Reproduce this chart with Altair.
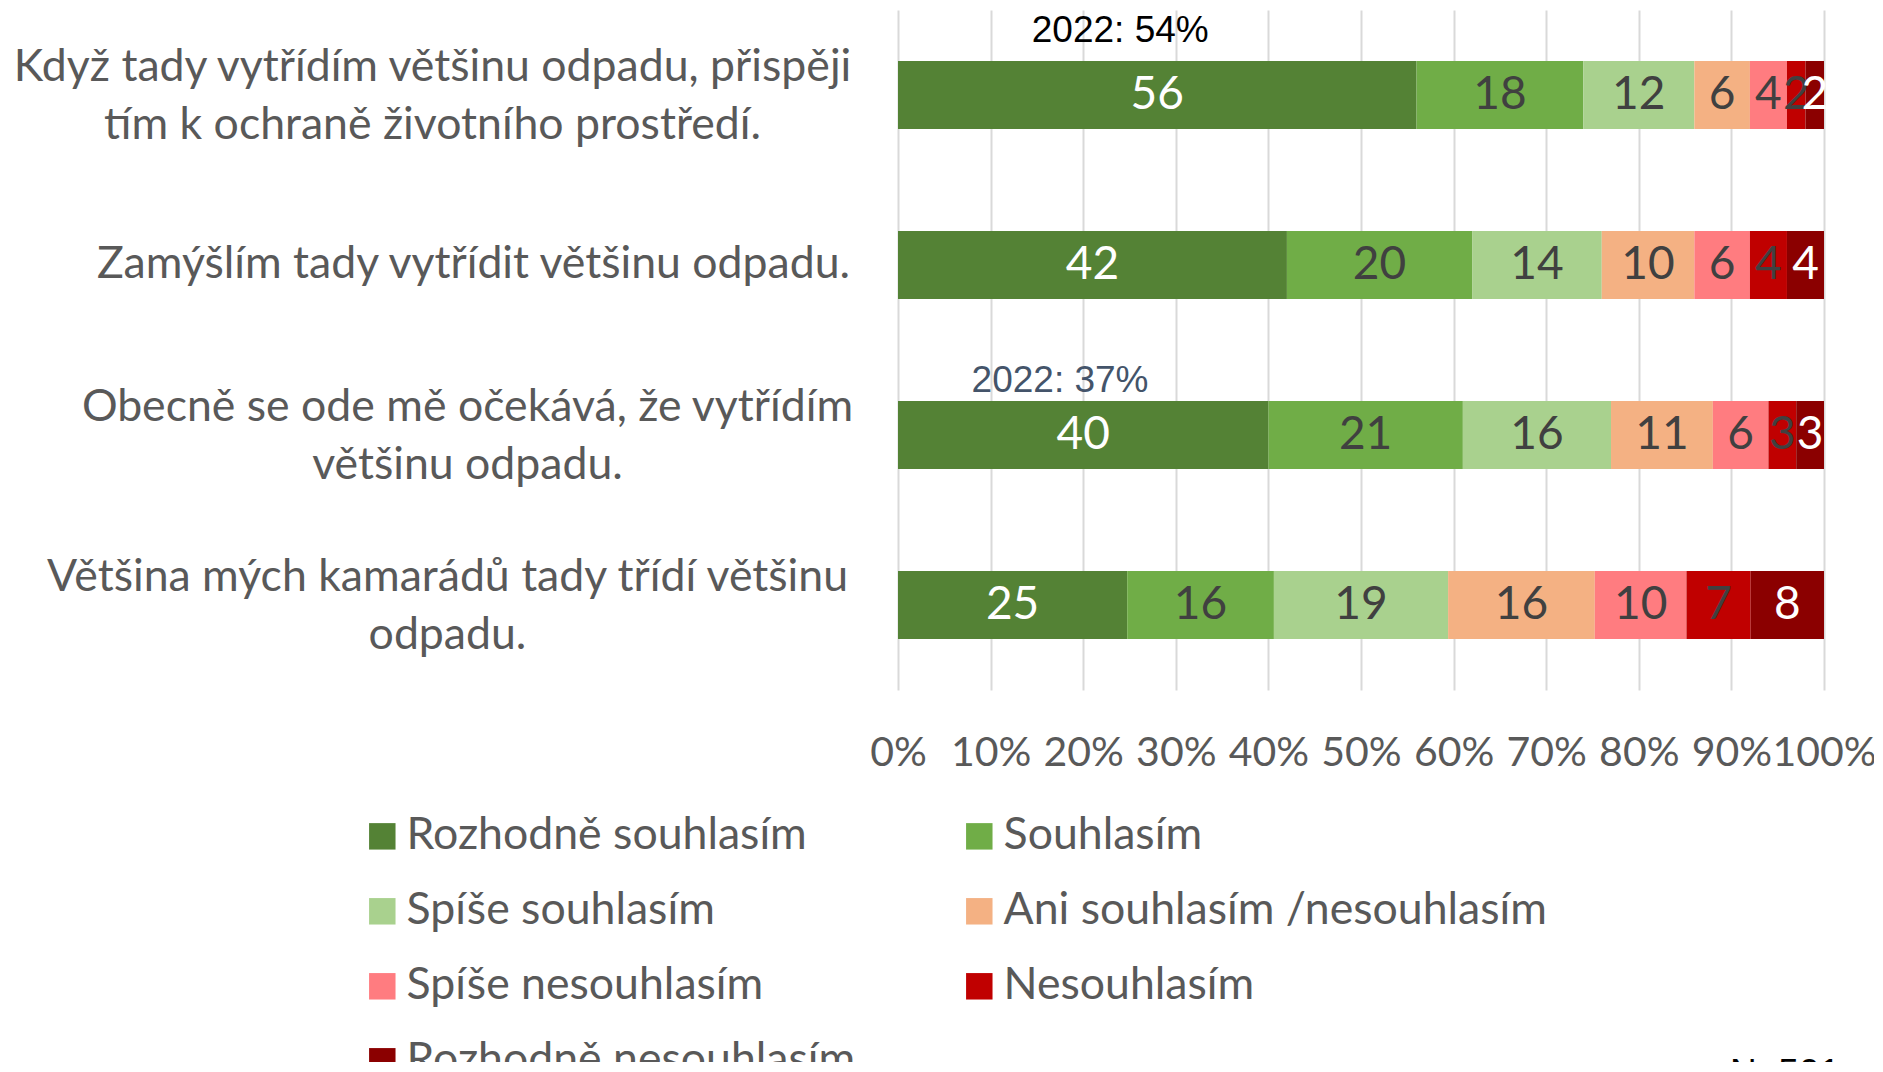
import altair as alt
import pandas as pd
import json

questions = [
    "Když tady vytřídím většinu odpadu, přispěji|tím k ochraně životního prostředí.",
    "Zamýšlím tady vytřídit většinu odpadu.",
    "Obecně se ode mě očekává, že vytřídím|většinu odpadu.",
    "Většina mých kamarádů tady třídí většinu|odpadu.",
]
categories = [
    "Rozhodně souhlasím",
    "Souhlasím",
    "Spíše souhlasím",
    "Ani souhlasím /nesouhlasím",
    "Spíše nesouhlasím",
    "Nesouhlasím",
    "Rozhodně nesouhlasím",
]
colors = ["#548235", "#70AD47", "#A9D18E", "#F4B183", "#FF7C80", "#C00000", "#8B0000"]
values = [
    [56, 18, 12, 6, 4, 2, 2],
    [42, 20, 14, 10, 6, 4, 4],
    [40, 21, 16, 11, 6, 3, 3],
    [25, 16, 19, 16, 10, 7, 8],
]
ann_texts = ["2022: 54%", "2022: 37%"]
ann_questions = [questions[0], questions[2]]
ann_x = [0.24, 0.175]
ann_colors = ["#000000", "#44546A"]
note = "N=501"
ticks = [0, 0.1, 0.2, 0.3, 0.4, 0.5, 0.6, 0.7, 0.8, 0.9, 1.0]

rows = []
for qi, q in enumerate(questions):
    for ci, c in enumerate(categories):
        rows.append({"question": q, "category": c, "order": ci, "value": values[qi][ci]})
df = pd.DataFrame(rows)

FONT = "Lato"
FS = 44.6
GRAY = "#595959"

# per-label padding so that each multi-line block is centred and right-aligned at the same edge
block_pad = [466, 425, 431, 451]
pad_cond = {
    "condition": [
        {"test": "datum.value == " + json.dumps(q), "value": p}
        for q, p in zip(questions[:-1], block_pad[:-1])
    ],
    "value": block_pad[-1],
}
offset_cond = {
    "condition": {"test": "indexof(datum.value, '|') >= 0", "value": -27},
    "value": 0,
}

y_enc = alt.Y(
    "question:N",
    sort=questions,
    scale=alt.Scale(paddingInner=0.6, paddingOuter=0.3),
    axis=alt.Axis(
        title=None,
        domain=False,
        ticks=False,
        tickSize=0,
        labelExpr="split(datum.label, '|')",
        labelAlign="center",
        labelBaseline="middle",
        labelFont=FONT,
        labelFontSize=FS,
        labelColor=GRAY,
        labelLineHeight=58,
        labelLimit=2000,
        labelPadding=pad_cond,
        labelOffset=offset_cond,
    ),
)

base = alt.Chart(df)
stacked = base.transform_stack(
    stack="value",
    groupby=["question"],
    as_=["v0", "v1"],
    offset="normalize",
    sort=[alt.SortField("order", order="ascending")],
).transform_calculate(mid="(datum.v0 + datum.v1) / 2")

bars = stacked.mark_bar().encode(
    y=y_enc,
    x=alt.X(
        "v0:Q",
        scale=alt.Scale(domain=[0, 1], nice=False),
        axis=alt.Axis(
            title=None,
            values=ticks,
            format=".0%",
            domain=False,
            ticks=False,
            tickSize=0,
            grid=True,
            gridColor="#D9D9D9",
            gridWidth=2,
            labelFont=FONT,
            labelFontSize=41,
            labelColor=GRAY,
            labelBaseline="middle",
            labelPadding=63,
            labelFlush=False,
            labelOverlap=False,
        ),
    ),
    x2="v1:Q",
    color=alt.Color(
        "category:N",
        scale=alt.Scale(domain=categories, range=colors),
        legend=alt.Legend(
            title=None,
            orient="none",
            direction="horizontal",
            legendX=-538,
            legendY=804,
            columns=2,
            columnPadding=101,
            rowPadding=30,
            symbolType="square",
            symbolSize=700,
            symbolStrokeWidth=0,
            labelFont=FONT,
            labelFontSize=FS,
            labelColor=GRAY,
            labelLimit=2000,
            labelOffset=2,
            padding=0,
        ),
    ),
)

labels = stacked.mark_text(font=FONT, fontSize=46, baseline="middle", align="center").encode(
    y=alt.Y("question:N", sort=questions),
    x=alt.X("mid:Q"),
    text=alt.Text("value:Q"),
    color=alt.condition(
        "datum.category == 'Rozhodně souhlasím' || datum.category == 'Rozhodně nesouhlasím'",
        alt.value("#FFFFFF"),
        alt.value("#404040"),
    ),
)

layers = [bars, labels]
ann_dy = [-53, -43]
for t, q, xv, col, dy in zip(ann_texts, ann_questions, ann_x, ann_colors, ann_dy):
    adf = pd.DataFrame({"question": [q], "x": [xv], "text": [t]})
    layers.append(
        alt.Chart(adf)
        .mark_text(font="Liberation Sans", fontSize=37, color=col, baseline="alphabetic", align="center", dy=dy)
        .encode(y=alt.Y("question:N", sort=questions), x=alt.X("x:Q"), text="text:N")
    )

ndf = pd.DataFrame({"text": [note]})
layers.append(
    alt.Chart(ndf)
    .mark_text(font="Liberation Sans", fontSize=37, color="#000000", baseline="top", align="left")
    .encode(x=alt.value(832), y=alt.value(1046), text="text:N")
)

chart = (
    alt.layer(*layers)
    .properties(
        width=926,
        height=680,
        autosize=alt.AutoSizeParams(type="none"),
        padding={"left": 890, "top": 2, "right": 50, "bottom": 372},
    )
    .configure_view(stroke=None)
)

chart.save("out.html", embed_options={"renderer": "svg", "actions": False})
